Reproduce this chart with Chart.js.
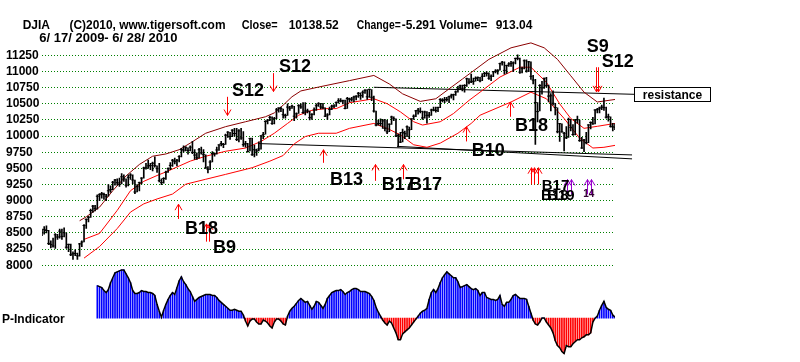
<!DOCTYPE html>
<html>
<head>
<meta charset="utf-8">
<script src="https://cdn.jsdelivr.net/npm/chart.js@4.4.1/dist/chart.umd.min.js"></script>
<style>
  html, body { margin: 0; padding: 0; background: #fff; }
  #wrap { width: 800px; height: 362px; }
</style>
</head>
<body>
<div id="wrap"><canvas id="chart" width="800" height="362"></canvas></div>
<script>
// DJIA daily bars, 6/17/2009 - 6/28/2010 (one value per trading day)
const closes = [
  8504,8555,8539,8339,8323,8299,8472,8438,8529,8447,
  8504,8280,8324,8163,8178,8183,8146,8331,8359,8616,8711,8743,8848,8916,8881,9069,9093,9108,9096,9070,9154,9172,
  9286,9320,9280,9256,9370,9337,9241,9362,9398,9321,9135,9217,9279,9350,9506,9509,9539,9543,9580,9544,9496,
  9310,9280,9344,9441,9497,9547,9627,9605,9626,9683,9791,9784,9820,9778,9829,9748,9707,9665,9789,9742,9712,
  9509,9487,9599,9731,9725,9786,9864,9885,9871,10015,10062,9995,10092,10041,9949,10081,9972,9868,9882,9762,9962,9712,
  9789,9771,9802,10005,10023,10226,10247,10291,10197,10270,10406,10437,10426,10332,10318,10450,10433,10464,10309,10345,
  10471,10452,10366,10388,10390,10286,10337,10405,10471,10501,10452,10441,10309,10328,10414,10464,10466,10520,10547,10545,10548,10428,
  10583,10572,10574,10606,10618,10663,10627,10680,10710,10609,10725,10603,10389,10172,10196,10194,10236,10120,10067,
  10185,10296,10270,10002,10012,9908,10058,10038,10144,10099,10268,10309,10392,10402,10383,10282,10374,10321,10325,
  10404,10406,10397,10444,10567,10552,10564,10567,10611,10625,10642,10685,10733,10779,10742,10785,10888,10836,10841,10850,10895,10907,10857,
  10927,10973,10969,10897,10927,10997,11005,11019,11123,11144,11019,11092,11117,11124,11134,11204,11205,10991,11045,11167,11008,
  11151,10926,10868,10520,10380,10785,10748,10896,10782,10620,10625,10510,10444,10068,10193,10066,10043,9975,10259,10137,
  10025,10250,10255,9931,9816,9940,9899,10173,10212,10191,10405,10410,10434,10450,10442,10294,10299,10153,10144,10138
];
const highs = [
  8560,8600,8610,8540,8380,8420,8490,8480,8560,8560,
  8580,8500,8330,8330,8210,8240,8190,8340,8380,8630,8720,8760,8870,8930,8930,9090,9110,9130,9120,9100,9250,9230,
  9300,9330,9340,9350,9420,9400,9340,9400,9420,9400,9320,9250,9290,9360,9520,9580,9630,9580,9600,9680,9540,
  9580,9340,9360,9460,9510,9590,9640,9660,9640,9700,9810,9850,9840,9820,9850,9920,9790,9740,9810,9830,9790,
  9710,9530,9620,9760,9740,9830,9870,9920,9890,10030,10070,10060,10100,10120,10120,10100,10120,10070,9920,9890,9970,9970,
  9860,9800,9910,10010,10060,10240,10260,10310,10300,10290,10430,10440,10450,10420,10340,10500,10460,10480,10460,10360,
  10490,10500,10520,10520,10420,10390,10350,10440,10500,10520,10510,10510,10440,10350,10450,10480,10490,10530,10580,10580,10560,10560,
  10600,10590,10600,10620,10630,10680,10670,10700,10720,10720,10730,10720,10620,10390,10250,10270,10260,10260,10250,
  10190,10310,10300,10270,10030,10060,10110,10080,10160,10140,10270,10330,10400,10430,10440,10390,10390,10380,10370,
  10420,10450,10450,10450,10580,10580,10600,10600,10620,10650,10650,10700,10770,10790,10790,10800,10900,10890,10960,10900,10920,10920,10910,
  10970,10990,11000,10980,10950,11000,11030,11030,11130,11160,11150,11100,11140,11160,11150,11210,11260,11210,11070,11180,11180,
  11160,11150,10940,10880,10520,10800,10850,10900,10910,10790,10660,10700,10510,10440,10200,10190,10060,10150,10280,10260,
  10180,10260,10310,10250,9980,9950,10060,10180,10220,10290,10410,10430,10450,10480,10590,10450,10340,10300,10200,10190
];
const lows = [
  8460,8480,8500,8320,8270,8280,8260,8400,8420,8400,
  8440,8260,8210,8150,8090,8150,8090,8140,8290,8360,8570,8670,8740,8820,8840,8870,9000,9040,9020,9000,9070,9130,
  9170,9240,9240,9220,9260,9300,9210,9230,9330,9260,9110,9135,9150,9260,9350,9490,9500,9480,9460,9520,9440,
  9290,9250,9270,9330,9440,9480,9530,9570,9540,9600,9680,9750,9770,9720,9770,9730,9640,9640,9660,9720,9600,
  9500,9430,9480,9600,9690,9720,9780,9850,9820,9870,9980,9950,9990,10000,9930,9910,9950,9840,9830,9750,9770,9700,
  9680,9700,9770,9800,9960,10030,10190,10240,10180,10190,10270,10370,10380,10280,10280,10320,10400,10430,10240,10280,
  10350,10430,10350,10330,10360,10250,10260,10330,10400,10460,10420,10420,10300,10260,10330,10410,10440,10460,10510,10530,10500,10420,
  10430,10530,10540,10530,10560,10600,10570,10600,10660,10570,10600,10550,10370,10160,10170,10160,10120,10080,10040,
  10070,10180,10240,9990,9835,9900,9910,9960,9990,9960,10100,10260,10300,10340,10360,10260,10280,10200,10290,
  10320,10390,10370,10380,10440,10530,10520,10540,10520,10590,10560,10630,10680,10720,10700,10680,10770,10810,10830,10800,10850,10860,10840,
  10860,10920,10930,10880,10860,10920,10980,10960,11020,11100,10960,10970,11080,11080,11000,11120,11180,10970,10980,11040,10990,
  11000,10880,10810,9870,10220,10390,10650,10740,10760,10530,10390,10480,10330,10050,9920,10060,9770,9960,9980,10080,
  10010,10020,10200,9920,9810,9760,9880,9900,10110,10180,10190,10360,10360,10410,10400,10280,10230,10140,10080,10100
];

// P-Indicator, starts at trading day 25
const pStart = 25;
const pIndicator = [
  33,32,31,28,26,29,36,41,46,47, 48,49,49,45,41,36,28,25,25,26,
  28,27,27,26,26,25,23,14,7,1, 8,14,19,23,26,24,31,38,42,37,
  34,30,27,22,17,19,21,22,23,24, 24,24,23,23,21,18,16,14,12,10,
  8,8,9,8,7,7,3,-3,-8,-3, -1,-1,-4,-6,-6,-2,-3,-5,-8,-10,
  -4,-1,-1,-3,-6,-7,2,7,10,12, 15,18,20,18,16,17,13,9,12,17,
  16,13,10,14,20,23,26,27,28,28, 29,27,24,26,27,29,30,30,29,27,
  27,27,26,25,22,18,11,6,2,-2, -5,-7,-3,-5,-10,-15,-22,-22,-16,-14,
  -12,-10,-7,-4,-1,2,5,7,8,10, 19,26,29,26,30,36,41,44,47,45,
  43,41,41,37,31,32,33,34,32,30, 29,30,28,23,26,26,21,20,19,19,
  18,19,23,14,12,16,16,19,23,24, 22,20,20,20,19,12,5,-2,-6,-7,
  -4,0,0,-4,-7,-10,-15,-23,-28,-30, -34,-36,-28,-29,-29,-26,-24,-22,-22,-20,
  -19,-17,-17,-15,-4,0,2,8,13,17, 11,9,8,3,1
];

const yTicks = [8000,8250,8500,8750,9000,9250,9500,9750,10000,10250,10500,10750,11000,11250];

// bands (trading day, price)
const upperDays = [17,20,26,32,38,44,50,56,62,67,74,83,92,101,105,109,113,117,125,132,139,150,157,163,171,178,184,190,198,202,212,221,227,233,239,245,251,259];
const upperBand = [8690,8750,8900,9155,9384,9561,9689,9724,9790,9892,10045,10147,10223,10300,10360,10480,10610,10700,10760,10810,10860,10940,10808,10655,10538,10579,10732,10884,11087,11189,11368,11444,11368,11189,10935,10681,10529,10568];
const midDays = [19,26,34,40,46,52,57,62,67,74,83,92,99,105,111,116,122,128,133,139,150,156,162,168,172,180,186,193,198,207,216,221,228,234,239,245,251,259];
const midBand = [8401,8493,8850,9155,9300,9390,9460,9537,9613,9689,9766,9816,9918,10045,10197,10324,10400,10426,10426,10518,10579,10503,10376,10223,10172,10223,10350,10553,10681,10915,11067,11067,10834,10500,10274,10121,10152,10197];
const lowerDays = [19,26,34,40,46,52,59,65,74,83,95,103,109,114,119,125,133,139,150,156,162,168,174,180,188,194,198,212,221,228,236,243,249,254,259];
const lowerBand = [8111,8290,8569,8824,8951,9027,9103,9256,9332,9408,9511,9613,9700,9880,9994,10045,10045,10121,10197,10121,10019,9866,9827,9892,10045,10197,10324,10529,10681,10579,10274,9969,9816,9827,9857];

// trend lines
const support1Days = [97.6, 266.7], support1 = [9885, 9709];
const support2Days = [160.5, 266.7], support2 = [9842, 9648];
const resistDays = [150, 267.6], resist = [10757, 10648];

// signals: text, trading day, price at baseline
const signalText = [
  ['S12', 85.9, 10625], ['S12', 107.1, 10991], ['B18', 64.6, 8488], ['B9', 77.3, 8183],
  ['B13', 130.2, 9236], ['B17', 153.6, 9160], ['B17', 165.9, 9160], ['B10', 194.3, 9694],
  ['B18', 213.8, 10075], ['S9', 246.2, 11296], ['S12', 253.0, 11067]
];
const clusterText = [['B18', 225.6, 9007], ['B19', 228.3, 9007], ['B17', 225.9, 9160]];
const smallText = [['14', 244.6, 9053]];
// arrows: trading day, tail price, tip price, kind
const signalArrows = [
  [83.8, 10609, 10320, 'sell'], [104.6, 10976, 10690, 'sell'],
  [61.6, 8717, 8946, 'buy'], [74.1, 8366, 8641, 'buy'], [75.3, 8366, 8641, 'buy'],
  [127.2, 9587, 9790, 'buy'], [150.5, 9308, 9561, 'buy'], [163.1, 9332, 9561, 'buy'],
  [191.7, 9918, 10147, 'buy'], [211.6, 10300, 10529, 'buy'],
  [250.2, 11067, 10686, 'sell'], [251.4, 11067, 10686, 'sell'],
  [221.1, 9251, 9511, 'buy'], [222.4, 9251, 9511, 'buy'], [224.2, 9251, 9511, 'buy'],
  [237.3, 9099, 9328, 'alt'], [239.2, 9099, 9328, 'alt'], [246.4, 9099, 9328, 'alt'], [248.2, 9099, 9328, 'alt']
];

const FONT = "'Liberation Sans', Arial, sans-serif";
Chart.defaults.font.family = FONT;

const pts = (d, v) => d.map((x, k) => ({ x: x, y: v[k] }));
const hlData = closes.map((c, i) => ({ x: i, y: [lows[i], highs[i]] }));
const closeData = closes.map((c, i) => ({ x: i, y: c }));
const pData = pIndicator.map((v, k) => ({ x: pStart + k, y: v }));

function lineSet(data, color, extra) {
  return Object.assign({
    type: 'line', data: data, borderColor: color, borderWidth: 1,
    pointRadius: 0, tension: 0, fill: false, yAxisID: 'y'
  }, extra || {});
}

// arrows, signal labels, header text
const overlay = {
  id: 'overlay',
  afterDatasetsDraw(chart) {
    const ctx = chart.ctx;
    const x = chart.scales.x, y = chart.scales.y;
    const px = d => x.getPixelForValue(d);
    const py = v => y.getPixelForValue(v);
    ctx.save();

    signalArrows.forEach(a => {
      const xx = Math.round(px(a[0])) + 0.5;
      const y0 = py(a[1]), y1 = py(a[2]);
      const dir = y1 < y0 ? 1 : -1;
      ctx.strokeStyle = a[3] === 'alt' ? '#9900cc' : '#ff0000';
      ctx.lineWidth = 1;
      ctx.beginPath();
      ctx.moveTo(xx, y0); ctx.lineTo(xx, y1);
      ctx.moveTo(xx - 3.5, y1 + dir * 6); ctx.lineTo(xx, y1); ctx.lineTo(xx + 3.5, y1 + dir * 6);
      ctx.stroke();
    });

    ctx.fillStyle = '#000';
    ctx.textAlign = 'left';
    ctx.textBaseline = 'alphabetic';
    ctx.font = 'bold 18px ' + FONT;
    signalText.forEach(t => ctx.fillText(t[0], px(t[1]), py(t[2])));
    ctx.font = 'bold 15px ' + FONT;
    clusterText.forEach(t => ctx.fillText(t[0], px(t[1]), py(t[2])));
    ctx.fillStyle = '#330033';
    ctx.font = 'bold 10px ' + FONT;
    smallText.forEach(t => ctx.fillText(t[0], px(t[1]), py(t[2])));

    // resistance label box at the end of the line
    const bx = Math.round(px(resistDays[1])) + 0.5;
    const by = Math.round(py(resist[1])) - 6.5;
    ctx.fillStyle = '#fff';
    ctx.fillRect(bx, by, 76, 14);
    ctx.strokeStyle = '#000';
    ctx.strokeRect(bx, by, 76, 14);
    ctx.fillStyle = '#000';
    ctx.font = 'bold 12px ' + FONT;
    ctx.textAlign = 'center';
    ctx.fillText('resistance', bx + 38, by + 11.5);

    // header
    ctx.textAlign = 'left';
    ctx.font = 'bold 12px ' + FONT;
    ctx.fillText('DJIA', 22.7, 29.3);
    ctx.fillText('(C)2010, www.tigersoft.com', 69.5, 29.3, 156);
    ctx.fillText('Close=', 241.7, 29.3, 36);
    ctx.fillText('10138.52', 288.7, 29.3, 52);
    ctx.fillText('Change=', 356.7, 29.3, 44);
    ctx.fillText('-5.291', 401.7, 29.3, 34);
    ctx.fillText('Volume=', 439.3, 29.3, 48);
    ctx.fillText('913.04', 495.7, 29.3, 39);
    ctx.font = 'bold 13px ' + FONT;
    ctx.fillText('6/ 17/ 2009- 6/ 28/ 2010', 39.3, 41.7);
    ctx.font = 'bold 12px ' + FONT;
    ctx.fillText('P-Indicator', 2, 323);
    ctx.restore();
  }
};

new Chart(document.getElementById('chart'), {
  type: 'line',
  data: {
    datasets: [
      {
        type: 'line', data: closeData, showLine: false, yAxisID: 'y',
        pointStyle: 'line', pointRadius: 1.5, pointBorderColor: '#000', pointBorderWidth: 1
      },
      {
        type: 'bar', data: hlData, yAxisID: 'y', backgroundColor: '#000',
        barThickness: 1, grouped: false
      },
      lineSet(pts(upperDays, upperBand), '#8b0000'),
      lineSet(pts(midDays, midBand), '#ff0000'),
      lineSet(pts(lowerDays, lowerBand), '#ff0000'),
      lineSet(pts(support1Days, support1), '#000', { clip: false }),
      lineSet(pts(support2Days, support2), '#000', { clip: false }),
      lineSet(pts(resistDays, resist), '#000', { clip: false }),
      lineSet(pData, '#000', { yAxisID: 'y2', borderWidth: 1.5 }),
      {
        type: 'bar', data: pData, yAxisID: 'y2', barThickness: 1, grouped: false,
        backgroundColor: c => (c.raw && c.raw.y < 0 ? '#ff0000' : '#0000ff')
      }
    ]
  },
  options: {
    responsive: false,
    animation: false,
    events: [],
    layout: { padding: { left: 6, right: 185, top: 40, bottom: 2 } },
    plugins: { legend: { display: false }, tooltip: { enabled: false } },
    scales: {
      x: { type: 'linear', min: 0, max: 259, offset: false, display: false },
      y: {
        type: 'linear', position: 'left', min: 6613.5, max: 11489,
        afterBuildTicks: s => { s.ticks = yTicks.map(v => ({ value: v })); },
        afterFit: s => { s.width = 36; },
        ticks: {
          crossAlign: 'far', padding: 0, color: '#000',
          font: { family: FONT, weight: 'bold', size: 12 },
          callback: v => String(v)
        },
        grid: { color: '#008000', drawTicks: false, lineWidth: 1 },
        border: { display: false, dash: [1, 2] }
      },
      y2: { type: 'linear', min: -37.3, max: 282.7, display: false }
    }
  },
  plugins: [overlay]
});
</script>
</body>
</html>
